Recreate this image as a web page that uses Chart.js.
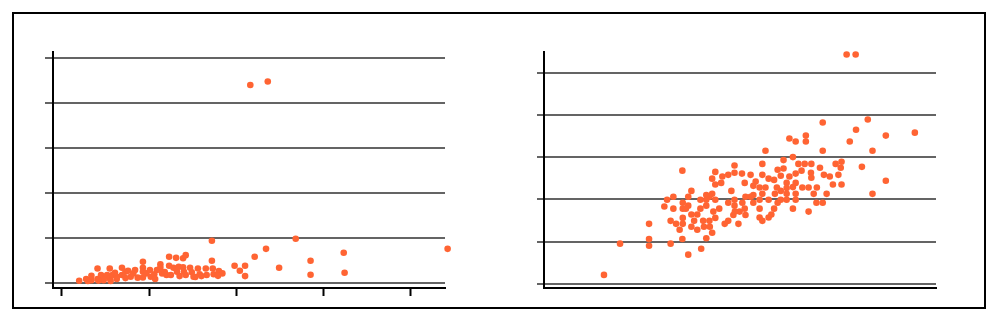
<!DOCTYPE html>
<html>
<head>
<meta charset="utf-8">
<script src="https://cdn.jsdelivr.net/npm/chart.js@4/dist/chart.umd.min.js"></script>
<style>
    html, body { margin: 0; padding: 0; background: #fff; }
    #page { position: relative; width: 1000px; height: 321px; overflow: hidden; }
    #frame { position: absolute; left: 12px; top: 12px; width: 974px; height: 297px; box-sizing: border-box; border: 2px solid #000; }
    .panel { position: absolute; top: 0; width: 500px; height: 321px; }
</style>
</head>
<body>
<div id="page">
    <div id="frame"></div>
    <div class="panel" style="left:0"><canvas id="left-chart"></canvas></div>
    <div class="panel" style="left:500px"><canvas id="right-chart"></canvas></div>
</div>
<script>
// 左图数据
const leftX = [2.0, 2.8, 3.4, 3.4, 4.1, 4.1, 4.5, 4.8, 5.2, 5.5, 5.5, 5.8, 6.1, 6.3, 6.9, 6.9, 7.3, 7.6, 7.9, 8.2,
    8.7, 9.3, 9.3, 9.3, 9.3, 9.7, 10.2, 10.6, 10.9, 11.3, 11.3, 11.5, 12.0, 12.3, 12.3, 12.5, 12.8, 13.1, 13.2, 13.4,
    13.9, 13.9, 14.2, 14.0, 14.2, 14.7, 14.9, 15.1, 15.6, 15.8, 16.5, 16.6, 17.2, 17.2, 17.3, 17.4, 18.0, 18.4, 19.8, 20.4,
    21.0, 21.0, 22.1, 23.4, 24.9, 26.8, 28.5, 28.5, 32.3, 32.4, 44.2, 21.6, 23.6, 4.8, 4.2, 6.3, 7.3, 8.4, 10.1, 11.8,
    16.0, 17.9, 3.0, 5.6, 10.7, 13.5, 15.3];
const leftY = [1.0, 1.8, 3.2, 1.3, 6.5, 1.8, 3.6, 2.1, 3.6, 6.5, 2.1, 3.6, 4.6, 2.8, 6.8, 3.6, 5.0, 5.5, 2.8, 4.3,
    2.4, 9.5, 6.8, 5.0, 2.5, 4.3, 2.8, 3.9, 5.8, 8.3, 6.8, 4.3, 3.6, 11.7, 7.7, 3.6, 6.8, 11.2, 5.0, 7.2,
    11.0, 7.0, 12.4, 5.0, 3.6, 6.8, 4.8, 2.8, 6.5, 3.9, 6.5, 3.6, 18.8, 9.9, 6.5, 3.9, 5.3, 4.3, 7.7, 5.5,
    7.7, 3.1, 11.7, 15.2, 6.8, 19.7, 9.9, 3.7, 13.5, 4.6, 15.2, 88.0, 89.6, 1.3, 1.1, 1.8, 2.2, 5.8, 5.8, 4.9,
    3.1, 3.2, 0.9, 0.9, 1.8, 3.1, 2.7];
const leftXTicks = [0, 10, 20, 30, 40];
const leftYTicks = [0, 20, 40, 60, 80, 100];

// 右图数据
const rightX = [77.2, 79.5, 71.1, 82.6, 79.6, 87.2, 94.6, 78.0, 83.8, 71.1, 62.6, 64.2, 66.8, 66.8, 56.5, 63.5, 61.1, 55.7, 64.9, 66.5,
    68.2, 74.4, 75.9, 75.7, 70.4, 81.1, 59.6, 61.1, 65.7, 68.1, 64.2, 62.6, 60.4, 58.7, 55.7, 57.3, 54.0, 52.7, 50.5, 48.6,
    48.6, 47.0, 45.5, 43.7, 42.9, 43.7, 45.2, 51.2, 53.4, 55.0, 56.5, 59.4, 61.9, 61.9, 61.9, 61.9, 64.2, 64.2, 64.2, 63.5,
    65.9, 67.5, 68.2, 69.6, 68.8, 71.4, 72.9, 75.1, 75.9, 73.7, 72.1, 69.5, 71.1, 67.5, 63.5, 83.8, 87.2, 60.4, 58.9, 60.4,
    59.6, 58.7, 57.3, 55.0, 55.7, 53.4, 53.4, 55.0, 55.0, 55.7, 57.3, 58.0, 52.7, 51.4, 50.6, 51.2, 51.4, 49.9, 48.6, 48.6,
    48.3, 47.8, 47.0, 47.0, 46.1, 49.6, 42.9, 42.2, 43.7, 44.7, 43.2, 43.7, 41.4, 41.4, 41.4, 39.9, 39.9, 40.6, 42.2, 40.8,
    42.3, 42.9, 41.4, 39.1, 39.1, 37.6, 36.8, 36.8, 37.6, 38.3, 37.6, 35.4, 35.4, 36.2, 35.4, 35.4, 35.3, 35.3, 34.6, 33.7,
    33.0, 33.0, 31.4, 30.7, 32.3, 32.3, 36.8, 40.1, 26.8, 26.8, 26.8, 19.4, 15.3, 48.7];
const rightY = [54.3, 54.3, 38.2, 38.9, 36.5, 35.1, 35.8, 33.7, 31.5, 31.5, 34.4, 33.7, 35.1, 33.7, 31.5, 30.0, 29.3, 28.4, 28.4, 28.4,
    28.4, 28.4, 28.9, 27.5, 27.5, 27.7, 27.0, 27.3, 26.8, 26.3, 26.1, 25.4, 25.6, 24.6, 25.8, 24.9, 24.2, 25.8, 26.1, 28.0,
    26.3, 25.8, 25.4, 26.5, 24.9, 23.5, 23.9, 23.9, 23.2, 22.8, 22.8, 22.8, 23.9, 22.7, 21.3, 19.9, 23.9, 21.3, 19.9, 22.9,
    22.8, 22.8, 25.1, 22.8, 21.3, 25.8, 25.4, 25.8, 23.5, 23.5, 21.3, 19.2, 19.2, 17.1, 17.8, 21.3, 24.4, 22.0, 21.3, 19.9,
    19.2, 17.8, 19.9, 19.9, 21.3, 21.0, 19.2, 17.8, 15.7, 14.9, 15.7, 16.4, 20.6, 20.6, 19.2, 17.8, 16.3, 17.1, 19.9, 18.5,
    16.3, 22.0, 19.2, 14.9, 14.2, 14.2, 21.3, 20.6, 19.9, 17.8, 17.1, 15.6, 21.0, 19.9, 18.5, 19.9, 17.8, 14.9, 14.9, 13.5,
    13.5, 12.1, 10.8, 16.4, 12.8, 22.0, 20.6, 18.5, 16.4, 14.9, 13.5, 19.2, 17.8, 17.8, 15.6, 14.2, 26.8, 10.6, 12.8, 14.2,
    20.6, 17.8, 19.9, 18.3, 14.9, 9.5, 6.9, 8.3, 14.2, 10.6, 9.0, 9.5, 2.1, 17.1];
const rightYTicks = [0, 10, 20, 30, 40, 50];

const pointColor = '#ff6433';
const gridColor = '#646464';

function toPoints(xs, ys) {
    return xs.map((x, i) => ({ x: x, y: ys[i] }));
}

function fixedTicks(values) {
    return function(scale) {
        scale.ticks = values.map(v => ({ value: v }));
    };
}

function zeroWidth(scale) { scale.width = 0; }
function zeroHeight(scale) { scale.height = 0; }

Chart.defaults.animation = false;

/**
 * 创建散点图
 */
function makeScatter(canvasId, data, padding, xScale, yScale) {
    const ctx = document.getElementById(canvasId).getContext('2d');
    return new Chart(ctx, {
        type: 'scatter',
        data: {
            datasets: [{
                data: data,
                backgroundColor: pointColor,
                borderWidth: 0,
                pointRadius: 3.3,
                clip: false
            }]
        },
        options: {
            responsive: true,
            maintainAspectRatio: false,
            devicePixelRatio: 1,
            layout: { padding: padding },
            plugins: {
                legend: { display: false },
                tooltip: { enabled: false }
            },
            scales: { x: xScale, y: yScale }
        }
    });
}

// 左图
makeScatter('left-chart', toPoints(leftX, leftY),
    { left: 53, top: 52, right: 55, bottom: 33 },
    {
        type: 'linear',
        min: -1.0,
        max: 43.9,
        afterBuildTicks: fixedTicks(leftXTicks),
        afterFit: zeroHeight,
        ticks: { display: false },
        border: { display: true, color: '#000', width: 2 },
        grid: { drawOnChartArea: false, drawTicks: true, tickLength: 8, tickColor: '#000', tickWidth: 2 }
    },
    {
        type: 'linear',
        min: -2.2,
        max: 102.7,
        afterBuildTicks: fixedTicks(leftYTicks),
        afterFit: zeroWidth,
        ticks: { display: false },
        border: { display: true, color: '#000', width: 2 },
        grid: { color: gridColor, lineWidth: 2, tickLength: 8, tickColor: gridColor, tickWidth: 2 }
    }
);

// 右图
makeScatter('right-chart', toPoints(rightX, rightY),
    { left: 44, top: 52, right: 64, bottom: 33 },
    {
        type: 'linear',
        min: 0,
        max: 100,
        afterFit: zeroHeight,
        ticks: { display: false },
        border: { display: true, color: '#000', width: 2 },
        grid: { display: false }
    },
    {
        type: 'linear',
        min: -1.0,
        max: 54.9,
        afterBuildTicks: fixedTicks(rightYTicks),
        afterFit: zeroWidth,
        ticks: { display: false },
        border: { display: true, color: '#000', width: 2 },
        grid: { color: gridColor, lineWidth: 2, tickLength: 7, tickColor: gridColor, tickWidth: 2 }
    }
);
</script>
</body>
</html>
